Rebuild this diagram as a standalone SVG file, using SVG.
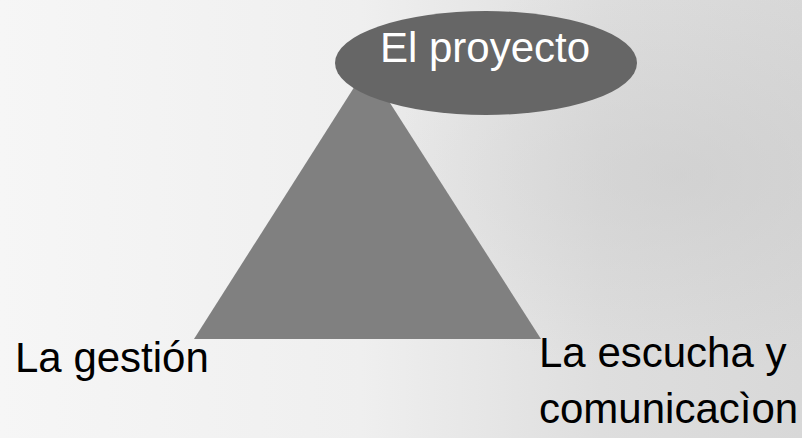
<svg xmlns="http://www.w3.org/2000/svg" width="802" height="438" viewBox="0 0 802 438">
  <defs>
    <linearGradient id="bg" x1="0" y1="0" x2="1" y2="0">
      <stop offset="0" stop-color="#f6f6f6"/>
      <stop offset="0.45" stop-color="#efefef"/>
      <stop offset="0.75" stop-color="#dedede"/>
      <stop offset="1" stop-color="#d8d8d8"/>
    </linearGradient>
    <radialGradient id="haze" cx="0.85" cy="0.4" r="0.45">
      <stop offset="0" stop-color="#c8c8c8" stop-opacity="0.5"/>
      <stop offset="1" stop-color="#c8c8c8" stop-opacity="0"/>
    </radialGradient>
    <style>
      .lbl { font-family: "Liberation Sans", Arial, sans-serif; font-size: 42px; fill: #000000; }
      .nodeText { font-family: "Liberation Sans", Arial, sans-serif; font-size: 42px; fill: #ffffff; }
    </style>
  </defs>
  <rect x="0" y="0" width="802" height="438" fill="url(#bg)"/>
  <rect x="0" y="0" width="802" height="438" fill="url(#haze)"/>
  <g id="triangle">
    <polygon points="367,67 194,339 541,339" fill="#808080"/>
  </g>
  <g id="node-proyecto">
    <ellipse cx="486" cy="63" rx="151" ry="52" fill="#666666"/>
    <text class="nodeText" x="380" y="62">El proyecto</text>
  </g>
  <g id="node-gestion">
    <text class="lbl" x="15" y="372">La gestión</text>
  </g>
  <g id="node-escucha">
    <text class="lbl" x="539" y="367">La escucha y</text>
    <text class="lbl" x="539" y="423">comunicacìon</text>
  </g>
  <g id="connectors"/>
</svg>
